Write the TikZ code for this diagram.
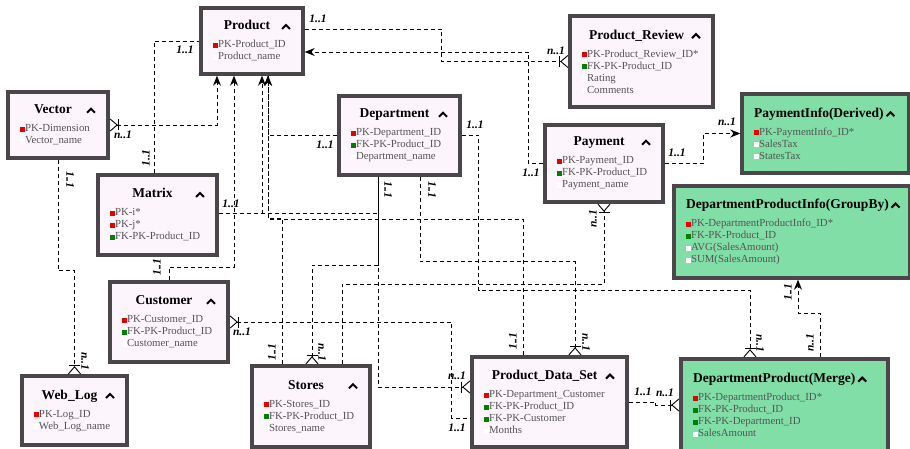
\documentclass[tikz,border=0pt]{standalone}
\usepackage{fontspec}
\setmainfont{Liberation Serif}
\usepackage{amsmath}
\usetikzlibrary{arrows.meta, positioning}

\definecolor{boxline}{RGB}{74,70,74}
\definecolor{boxfill}{RGB}{253,245,252}
\definecolor{derivfill}{RGB}{128,222,166}
\definecolor{rowgray}{RGB}{85,85,85}
\definecolor{keyred}{RGB}{230,0,0}
\definecolor{keygreen}{RGB}{0,128,0}

\newcommand{\pkbox}{\textcolor{keyred}{\rule{5pt}{5pt}}}
\newcommand{\fkbox}{\textcolor{keygreen}{\rule{5pt}{5pt}}}
\newcommand{\plbox}{\textcolor{white}{\rule{5pt}{5pt}}}
\newcommand{\caret}{\tikz[baseline=-1pt, x=1pt, y=1pt]\draw[black, line width=2pt, line join=miter] (0,0) -- (4,4) -- (8,0);}
\newcommand{\enttitle}[1]{\hfill{\fontsize{13.5}{15}\selectfont\bfseries\color{black}#1}\hfill\caret}
\newcommand{\dertitle}[1]{{\fontsize{13.5}{15}\selectfont\bfseries\color{black}#1}\,\caret\hfill}

\tikzset{
    entbox/.style={rectangle, draw=boxline, fill=boxfill, line width=3.4pt, inner xsep=12pt, inner ysep=3pt, align=left, text=rowgray, font=\fontsize{10.8}{12}\selectfont},
    derivbox/.style={entbox, fill=derivfill},
    rel/.style={draw=black, line width=0.9pt, dash pattern=on 4pt off 3pt},
    card/.style={font=\fontsize{11.5}{12}\selectfont\bfseries\itshape, inner sep=0pt, text=black},
    crowtip/.tip={Bar[width=11pt, line width=0.9pt] Straight Barb[reversed, length=7pt, width=12pt, line width=0.9pt]},
    onetip/.tip={Stealth[length=10pt, width=8pt]}
}

\begin{document}
\begin{tikzpicture}[x=1pt, y=-1pt]
\useasboundingbox (0,0) rectangle (910,449);

% tables
\node[entbox, text width=78pt, minimum height=66pt] (product) at (252,41) {\enttitle{Product}\\[6pt]\pkbox PK-Product\_ID\\\plbox Product\_name};
\node[entbox, text width=119pt, minimum height=91pt] (review) at (641.5,61.5) {\enttitle{Product\_Review}\\[6pt]\pkbox PK-Product\_Review\_ID*\\\fkbox FK-PK-Product\_ID\\\plbox Rating\\\plbox Comments};
\node[entbox, text width=76pt, minimum height=66pt] (vector) at (58,125) {\enttitle{Vector}\\[6pt]\pkbox PK-Dimension\\\plbox Vector\_name};
\node[entbox, text width=97pt, minimum height=79pt] (dept) at (399.5,135.5) {\enttitle{Department}\\[6pt]\pkbox PK-Department\_ID\\\fkbox FK-PK-Product\_ID\\\plbox Department\_name};
\node[entbox, text width=94pt, minimum height=77pt] (payment) at (604,163.5) {\enttitle{Payment}\\[6pt]\pkbox PK-Payment\_ID\\\fkbox FK-PK-Product\_ID\\\plbox Payment\_name};
\node[derivbox, text width=143pt, minimum height=79pt] (payinfo) at (825.5,133.5) {\dertitle{PaymentInfo(Derived)}\\[6pt]\pkbox PK-PaymentInfo\_ID*\\\plbox SalesTax\\\plbox StatesTax};
\node[entbox, text width=95pt, minimum height=80pt] (matrix) at (157.5,215) {\enttitle{Matrix}\\[6pt]\pkbox PK-i*\\\pkbox PK-j*\\\fkbox FK-PK-Product\_ID};
\node[derivbox, text width=212pt, minimum height=92pt] (dpinfo) at (792,232) {\dertitle{DepartmentProductInfo(GroupBy)}\\[6pt]\pkbox PK-DepartmentProductInfo\_ID*\\\fkbox FK-PK-Product\_ID\\\plbox AVG(SalesAmount)\\\plbox SUM(SalesAmount)};
\node[entbox, text width=94pt, minimum height=80pt] (customer) at (169,322) {\enttitle{Customer}\\[6pt]\pkbox PK-Customer\_ID\\\fkbox FK-PK-Product\_ID\\\plbox Customer\_name};
\node[entbox, text width=81pt, minimum height=69pt] (weblog) at (74.5,410.5) {\enttitle{Web\_Log}\\[6pt]\pkbox PK-Log\_ID\\\plbox Web\_Log\_name};
\node[entbox, text width=94pt, minimum height=81pt] (stores) at (311,406.5) {\enttitle{Stores}\\[6pt]\pkbox PK-Stores\_ID\\\fkbox FK-PK-Product\_ID\\\plbox Stores\_name};
\node[entbox, text width=131pt, minimum height=90pt] (pds) at (549.5,402) {\enttitle{Product\_Data\_Set}\\[6pt]\pkbox PK-Department\_Customer\\\fkbox FK-PK-Product\_ID\\\fkbox FK-PK-Customer\\\plbox Months};
\node[derivbox, text width=183pt, minimum height=92pt] (dpmerge) at (784.5,405) {\dertitle{DepartmentProduct(Merge)}\\[6pt]\pkbox PK-DepartmentProduct\_ID*\\\fkbox FK-PK-Product\_ID\\\fkbox FK-PK-Department\_ID\\\plbox SalesAmount};

% relations
\draw[rel, -{crowtip}] ([yshift=12pt]product.east) -- ++(137,0) |- (review.west);
\draw[rel, -{onetip}] (payment.west) -- ++(-15,0) |- ([yshift=-11pt]product.east);
\draw[rel] ([xshift=-3.5pt]matrix.north) |- (product.west);
\draw[rel, {crowtip}-{onetip}] (vector.east) -| ([xshift=-35pt]product.south);
\draw[rel, -{crowtip}] (vector.south) -- ++(0,111) -| (weblog.north);
\draw[rel, -{onetip}] (customer.north) -- ++(0,-13) -| ([xshift=-18pt]product.south);
\draw[rel, -{onetip}] (dept.west) -| ([xshift=16pt]product.south);
\draw[rel, -{onetip}] ([yshift=2pt]matrix.east) -| ([xshift=10pt]product.south);
\draw[rel] ([yshift=2pt]matrix.east) -| ([xshift=-21.5pt]dept.south);
\draw[rel, -{onetip}] ([xshift=-26.5pt]pds.north) -- ++(0,-136) -| ([xshift=16pt]product.south);
\draw[rel] ([xshift=-29pt]stores.north) -- ++(0,-146) -| ([xshift=16pt]product.south);
\draw[rel, {crowtip}-] ([xshift=1pt]stores.north) -- ++(0,-99) -| ([xshift=-21.5pt]dept.south);
\draw[rel, -{crowtip}] ([xshift=31pt]stores.north) -- ++(0,-80) -| (payment.south);
\draw[rel, -{crowtip}] ([xshift=20.5pt]dept.south) -- ++(0,85) -| ([xshift=25.5pt]pds.north);
\draw[rel, -{crowtip}] (dept.east) -- ++(17,0) -- ++(0,154.5) -| ([xshift=-34.5pt]dpmerge.north);
\draw[rel, -{crowtip}] ([xshift=-21.5pt]dept.south) |- ([yshift=15pt]pds.west);
\draw[rel, {crowtip}-] (customer.east) -- ++(222,0) |- ([yshift=-16pt]pds.west);
\draw[rel, -{crowtip}] (pds.east) -- ++(27,0) |- (dpmerge.west);
\draw[rel, -{onetip}] ([xshift=35.5pt]dpmerge.north) -- ++(0,-44) -| ([xshift=6pt]dpinfo.south);
\draw[rel, -{onetip}] (payment.east) -- ++(39,0) |- (payinfo.west);

% cardinalities
\foreach \nm/\x/\y/\r/\t in {c1/318/19/0/1..1, c2/556/51/0/n..1, c3/185/50/0/1..1, c4/146/158/90/1..1,
    c5/123/135/0/n..1, c6/70/180/-90/1..1, c7/85/361/-90/n..1, c8/157/267/90/1..1, c9/231/204/0/1..1,
    c10/325/145/0/1..1, c11/475/125/0/1..1, c12/388/190/-90/1..1, c13/432/190/-90/1..1, c14/531/173/0/1..1,
    c15/677/153/0/1..1, c16/727/122/0/n..1, c17/593/219/90/n..1, c18/513/341/90/1..1, c19/586/342/-90/n..1,
    c20/272/352/90/1..1, c21/322/352/-90/n..1, c22/457/376/0/n..1, c23/457/428/0/1..1, c24/242/332/0/n..1,
    c25/643/392/0/1..1, c26/665/393/0/n..1, c27/760/343/-90/n..1, c28/810/343/90/n..1, c29/788/292/90/1..1}
    \node[card, rotate=\r] (\nm) at (\x,\y) {\t};

\end{tikzpicture}
\end{document}
